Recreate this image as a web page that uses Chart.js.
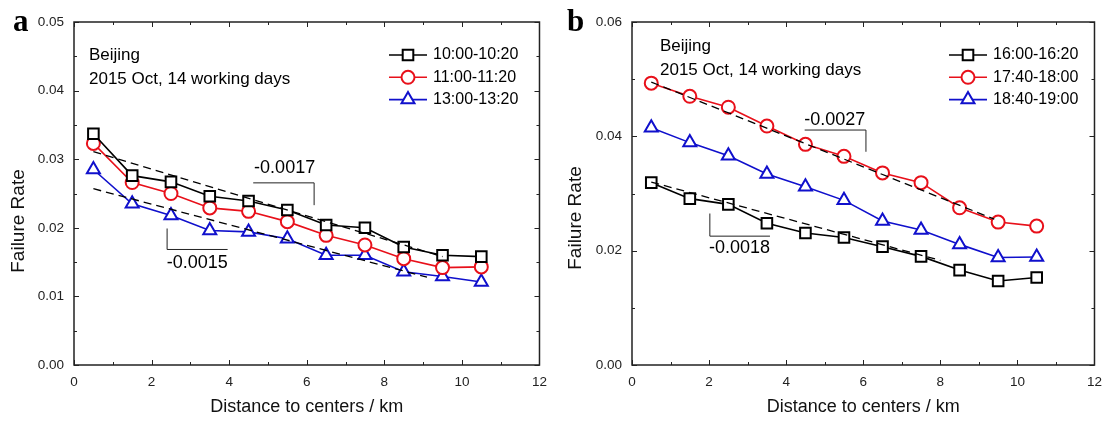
<!DOCTYPE html>
<html>
<head>
<meta charset="utf-8">
<script src="https://cdn.jsdelivr.net/npm/chart.js@4.4.0/dist/chart.umd.min.js"></script>
<style>
  html, body { margin: 0; padding: 0; background: #fff; }
  #wrap { position: relative; width: 1111px; height: 421px; overflow: hidden; }
  .panel { position: absolute; top: 0; height: 421px; }
</style>
</head>
<body>
<div id="wrap">
  <div class="panel" style="left:0;width:556px"><canvas id="chartA"></canvas></div>
  <div class="panel" style="left:556px;width:555px"><canvas id="chartB"></canvas></div>
</div>
<script>
// distance bins (km)
const distances = [0.5, 1.5, 2.5, 3.5, 4.5, 5.5, 6.5, 7.5, 8.5, 9.5, 10.5];

// panel a
const labelsA = ['10:00-10:20', '11:00-11:20', '13:00-13:20'];
const a1000 = [0.0337, 0.0276, 0.0267, 0.0246, 0.0239, 0.0226, 0.0204, 0.0200, 0.0172, 0.0160, 0.0158];
const a1100 = [0.0323, 0.0266, 0.0250, 0.0229, 0.0224, 0.0209, 0.0189, 0.0175, 0.0155, 0.0142, 0.0143];
const a1300 = [0.0285, 0.0235, 0.0218, 0.0196, 0.0194, 0.0184, 0.0160, 0.0160, 0.0136, 0.0129, 0.0121];
// linear fits (end points)
const fitA1000x = [0.5, 9.5], fitA1000y = [0.0311, 0.0158];
const fitA1300x = [0.5, 9.1], fitA1300y = [0.0257, 0.0128];

// panel b
const labelsB = ['16:00-16:20', '17:40-18:00', '18:40-19:00'];
const b1620 = [0.0319, 0.0291, 0.0281, 0.0248, 0.0231, 0.0223, 0.0207, 0.0190, 0.0166, 0.0147, 0.0153];
const b1740 = [0.0493, 0.0470, 0.0451, 0.0418, 0.0386, 0.0365, 0.0336, 0.0319, 0.0275, 0.0250, 0.0243];
const b1840 = [0.0415, 0.0389, 0.0366, 0.0334, 0.0312, 0.0288, 0.0252, 0.0236, 0.0211, 0.0188, 0.0189];
const fitB1740x = [0.5, 9.4], fitB1740y = [0.0495, 0.0255];
const fitB1620x = [0.5, 8.0], fitB1620y = [0.0320, 0.0183];

// x ticks
const xTicks = [0, 2, 4, 6, 8, 10, 12];

const BLACK = '#000000', RED = '#e8101a', BLUE = '#1010cc';
const FONT = 'Arial, "Liberation Sans", sans-serif';

const pts = (xs, ys) => xs.map((x, i) => ({ x: x, y: ys[i] }));

function seriesDS(label, ys, color, style) {
  return {
    label: label, data: pts(distances, ys), borderColor: color, borderWidth: 1.6,
    pointStyle: style, pointRadius: style === 'circle' ? 6.5 : 7.5, pointBorderWidth: 2,
    pointBackgroundColor: '#fff', pointBorderColor: color, showLine: true, order: 2
  };
}
function fitDS(xs, ys) {
  return {
    label: 'fit', data: pts(xs, ys), borderColor: '#000', borderWidth: 1.3,
    borderDash: [8, 5], pointRadius: 0, showLine: true, order: 0, isFit: true
  };
}

function drawMarker(ctx, style, x, y, r, color) {
  ctx.save();
  ctx.strokeStyle = color; ctx.lineWidth = 2; ctx.fillStyle = '#fff';
  ctx.beginPath();
  if (style === 'circle') {
    ctx.arc(x, y, r, 0, Math.PI * 2);
  } else if (style === 'rect') {
    const s = r * Math.SQRT1_2;
    ctx.rect(x - s, y - s, 2 * s, 2 * s);
  } else {
    ctx.moveTo(x, y - r);
    ctx.lineTo(x + r * 0.866, y + r * 0.5);
    ctx.lineTo(x - r * 0.866, y + r * 0.5);
    ctx.closePath();
  }
  ctx.fill(); ctx.stroke();
  ctx.restore();
}

// frame, inward ticks, legend, notes and slope marks
const decorPlugin = {
  id: 'decor',
  afterDraw(chart) {
    const o = chart.options.plugins.decor;
    const ctx = chart.ctx, a = chart.chartArea;
    const xs = chart.scales.x, ys = chart.scales.y;
    ctx.save();
    // frame
    ctx.strokeStyle = '#222'; ctx.lineWidth = 1.5;
    ctx.strokeRect(a.left, a.top, a.right - a.left, a.bottom - a.top);
    // ticks
    ctx.lineWidth = 1;
    ctx.beginPath();
    for (let v = xs.min; v <= xs.max + 1e-9; v += o.xMinor) {
      const p = Math.round(xs.getPixelForValue(v)) + 0.5;
      const major = Math.abs(v / o.xMajor - Math.round(v / o.xMajor)) < 1e-6;
      const len = major ? 5 : 3;
      ctx.moveTo(p, a.bottom); ctx.lineTo(p, a.bottom - len);
      ctx.moveTo(p, a.top); ctx.lineTo(p, a.top + len);
    }
    for (let v = ys.min; v <= ys.max + 1e-9; v += o.yMinor) {
      const p = Math.round(ys.getPixelForValue(v)) + 0.5;
      const major = Math.abs(v / o.yMajor - Math.round(v / o.yMajor)) < 1e-6;
      const len = major ? 5 : 3;
      ctx.moveTo(a.left, p); ctx.lineTo(a.left + len, p);
      ctx.moveTo(a.right, p); ctx.lineTo(a.right - len, p);
    }
    ctx.stroke();

    // panel letter
    ctx.fillStyle = '#000';
    ctx.font = 'bold 31px "Liberation Serif", "Times New Roman", serif';
    ctx.textAlign = 'left'; ctx.textBaseline = 'alphabetic';
    ctx.fillText(o.letter, o.letterX, 31);

    // y axis title
    ctx.save();
    ctx.translate(o.yTitleX, o.yTitleY);
    ctx.rotate(-Math.PI / 2);
    ctx.font = '19px ' + FONT; ctx.fillStyle = '#111';
    ctx.textAlign = 'center'; ctx.textBaseline = 'middle';
    ctx.fillText('Failure Rate', 0, 0);
    ctx.restore();

    // notes
    ctx.font = '17px ' + FONT;
    ctx.textAlign = 'left'; ctx.textBaseline = 'middle';
    o.notes.forEach((t, i) => ctx.fillText(t, a.left + o.noteX, o.noteY + i * 24));

    // legend
    const series = chart.data.datasets.filter(d => !d.isFit);
    series.forEach((d, i) => {
      const y = o.legY + i * 22.3;
      const x0 = a.left + o.legX, x1 = x0 + 38;
      ctx.strokeStyle = d.borderColor; ctx.lineWidth = 1.6;
      ctx.beginPath(); ctx.moveTo(x0, y); ctx.lineTo(x1, y); ctx.stroke();
      drawMarker(ctx, d.pointStyle, (x0 + x1) / 2, y, d.pointRadius, d.borderColor);
      ctx.fillStyle = '#000'; ctx.font = '16px ' + FONT;
      ctx.textAlign = 'left';
      ctx.fillText(d.label, x1 + 6, y);
    });

    // slope marks
    ctx.strokeStyle = '#222'; ctx.lineWidth = 1;
    o.slopes.forEach(s => {
      ctx.beginPath();
      s.path.forEach((pt, i) => {
        const px = xs.getPixelForValue(pt[0]), py = ys.getPixelForValue(pt[1]);
        if (i === 0) ctx.moveTo(px, py); else ctx.lineTo(px, py);
      });
      ctx.stroke();
      ctx.fillStyle = '#000'; ctx.font = '18px ' + FONT;
      ctx.textAlign = 'center'; ctx.textBaseline = 'middle';
      ctx.fillText(s.text, xs.getPixelForValue(s.at[0]), ys.getPixelForValue(s.at[1]));
    });
    ctx.restore();
  }
};

function makeChart(id, datasets, yMax, yStep, pad, yWidth, decor) {
  return new Chart(document.getElementById(id), {
    type: 'scatter',
    data: { datasets: datasets },
    plugins: [decorPlugin],
    options: {
      responsive: true, maintainAspectRatio: false, animation: false,
      layout: { padding: pad },
      plugins: { legend: { display: false }, tooltip: { enabled: false }, decor: decor },
      scales: {
        x: {
          type: 'linear', min: 0, max: 12,
          grid: { display: false, drawTicks: false }, border: { display: false },
          afterBuildTicks: s => { s.ticks = xTicks.map(v => ({ value: v })); },
          ticks: { padding: 9, color: '#222', font: { family: FONT, size: 13.5 } },
          title: { display: true, text: 'Distance to centers / km', color: '#111',
                   font: { family: FONT, size: 18 }, padding: { top: 0, bottom: 3 } },
          afterFit: s => { s.height = 56; }
        },
        y: {
          type: 'linear', min: 0, max: yMax,
          grid: { display: false, drawTicks: false }, border: { display: false },
          ticks: { stepSize: yStep, padding: 10, color: '#222', font: { family: FONT, size: 13.5 },
                   callback: v => v.toFixed(2) },
          title: { display: false },
          afterFit: s => { s.width = yWidth; }
        }
      }
    }
  });
}

makeChart('chartA', [
  fitDS(fitA1000x, fitA1000y),
  fitDS(fitA1300x, fitA1300y),
  seriesDS(labelsA[0], a1000, BLACK, 'rect'),
  seriesDS(labelsA[1], a1100, RED, 'circle'),
  seriesDS(labelsA[2], a1300, BLUE, 'triangle')
], 0.05, 0.01, { left: 0, top: 22, right: 15, bottom: 0 }, 74, {
  letter: 'a', letterX: 13, xMajor: 2, xMinor: 1, yMajor: 0.01, yMinor: 0.005,
  yTitleX: 19, yTitleY: 221,
  notes: ['Beijing', '2015 Oct, 14 working days'], noteX: 15, noteY: 55,
  legX: 315, legY: 55,
  slopes: [
    { text: '-0.0017', path: [[4.62, 0.02655], [6.19, 0.02655], [6.19, 0.0233]], at: [5.43, 0.0287] },
    { text: '-0.0015', path: [[2.40, 0.0199], [2.40, 0.01684], [3.96, 0.01684]], at: [3.18, 0.0148] }
  ]
});

makeChart('chartB', [
  fitDS(fitB1740x, fitB1740y),
  fitDS(fitB1620x, fitB1620y),
  seriesDS(labelsB[0], b1620, BLACK, 'rect'),
  seriesDS(labelsB[1], b1740, RED, 'circle'),
  seriesDS(labelsB[2], b1840, BLUE, 'triangle')
], 0.06, 0.02, { left: 0, top: 22, right: 12, bottom: 0 }, 76, {
  letter: 'b', letterX: 11, xMajor: 2, xMinor: 1, yMajor: 0.02, yMinor: 0.01,
  yTitleX: 20, yTitleY: 218,
  notes: ['Beijing', '2015 Oct, 14 working days'], noteX: 28, noteY: 46,
  legX: 317, legY: 55,
  slopes: [
    { text: '-0.0027', path: [[4.48, 0.0411], [6.07, 0.0411], [6.07, 0.0373]], at: [5.26, 0.0429] },
    { text: '-0.0018', path: [[2.02, 0.0265], [2.02, 0.02254], [3.58, 0.02254]], at: [2.79, 0.0204] }
  ]
});
</script>
</body>
</html>
